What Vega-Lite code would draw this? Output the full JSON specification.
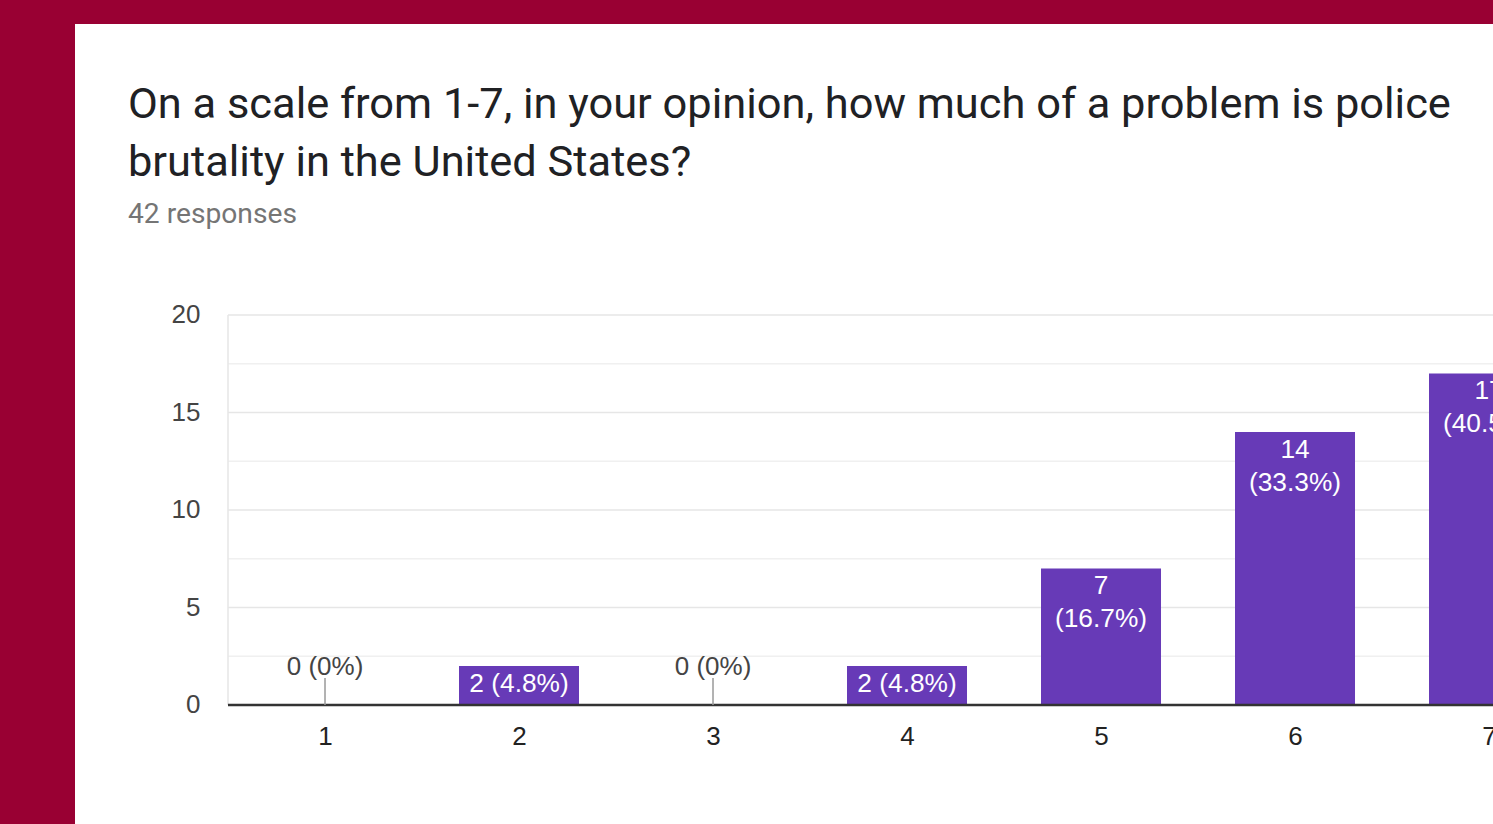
{
  "$schema": "https://vega.github.io/schema/vega-lite/v6.json",
  "width": 1418,
  "height": 800,
  "autosize": {"type": "none"},
  "padding": {"left": 75, "top": 24, "right": 0, "bottom": 0},
  "background": "#990033",
  "title": {
    "text": ["On a scale from 1-7, in your opinion, how much of a problem is police", "brutality in the United States?"],
    "subtitle": "42 responses",
    "anchor": "start",
    "frame": "group",
    "orient": "top",
    "offset": -205,
    "dx": 53,
    "font": "Roboto",
    "fontSize": 43.4,
    "fontWeight": "normal",
    "color": "#202124",
    "lineHeight": 58,
    "subtitleFont": "Roboto",
    "subtitleFontSize": 28.2,
    "subtitleColor": "#757575",
    "subtitlePadding": 15
  },
  "data": {
    "values": [
      {"rating": 1, "count": 0, "label": "0 (0%)"},
      {"rating": 2, "count": 2, "label": "2 (4.8%)"},
      {"rating": 3, "count": 0, "label": "0 (0%)"},
      {"rating": 4, "count": 2, "label": "2 (4.8%)"},
      {"rating": 5, "count": 7, "label": "7\n(16.7%)"},
      {"rating": 6, "count": 14, "label": "14\n(33.3%)"},
      {"rating": 7, "count": 17, "label": "17\n(40.5%)"}
    ]
  },
  "layer": [
    {
      "data": {"values": [{"tick": 2.5}, {"tick": 5}, {"tick": 7.5}, {"tick": 10}, {"tick": 12.5}, {"tick": 15}, {"tick": 17.5}, {"tick": 20}]},
      "mark": {"type": "rule", "strokeWidth": 1.5},
      "encoding": {
        "x": {
          "datum": 0.5, "type": "quantitative",
          "scale": {"domain": [-0.2887, 7.0206], "nice": false, "zero": false, "padding": 0},
          "axis": {"values": [1, 2, 3, 4, 5, 6, 7], "format": "d", "title": null, "grid": false, "domain": false, "ticks": false, "tickSize": 0, "labelPadding": 18, "labelFont": "Liberation Sans", "labelFontSize": 26, "labelColor": "#222222", "labelFlush": false, "labelOverlap": false, "offset": -119, "zindex": 1}
        },
        "x2": {"datum": 7.5},
        "y": {
          "field": "tick", "type": "quantitative",
          "scale": {"domain": [-6.1026, 34.923], "nice": false, "zero": false, "padding": 0},
          "axis": {"values": [0, 5, 10, 15, 20], "title": null, "grid": false, "domain": false, "ticks": false, "tickSize": 0, "labelPadding": 27, "labelFont": "Liberation Sans", "labelFontSize": 26, "labelColor": "#444444", "labelOverlap": false, "offset": -152, "zindex": 1}
        },
        "color": {"condition": {"test": "datum.tick % 5 == 0", "value": "#e6e6e6"}, "value": "#f0f0f0"}
      }
    },
    {
      "data": {"values": [{"edge": "left"}]},
      "mark": {"type": "rule", "color": "#e6e6e6", "strokeWidth": 1.5},
      "encoding": {
        "x": {"datum": 0.5, "type": "quantitative"},
        "y": {"datum": 0, "type": "quantitative"},
        "y2": {"datum": 20}
      }
    },
    {
      "mark": {"type": "bar", "orient": "vertical", "color": "#673ab7", "size": 120},
      "encoding": {
        "x": {"field": "rating", "type": "quantitative"},
        "y": {"field": "count", "type": "quantitative"}
      }
    },
    {
      "data": {"values": [{"edge": "baseline"}]},
      "mark": {"type": "rule", "color": "#333333", "strokeWidth": 2.5},
      "encoding": {
        "x": {"datum": 0.5, "type": "quantitative"},
        "x2": {"datum": 7.5},
        "y": {"datum": 0, "type": "quantitative"}
      }
    },
    {
      "transform": [{"filter": "datum.count == 0"}],
      "mark": {"type": "rule", "color": "#999999", "strokeWidth": 1.5},
      "encoding": {
        "x": {"field": "rating", "type": "quantitative"},
        "y": {"field": "count", "type": "quantitative"},
        "y2": {"datum": 1.38}
      }
    },
    {
      "transform": [{"filter": "datum.count == 0"}],
      "mark": {"type": "text", "font": "Liberation Sans", "fontSize": 26, "color": "#444444", "baseline": "alphabetic", "dy": -30},
      "encoding": {
        "x": {"field": "rating", "type": "quantitative"},
        "y": {"field": "count", "type": "quantitative"},
        "text": {"field": "label"}
      }
    },
    {
      "transform": [{"filter": "datum.count > 0"}],
      "mark": {"type": "text", "font": "Liberation Sans", "fontSize": 26.3, "color": "#ffffff", "baseline": "top", "dy": 5, "lineBreak": "\n", "lineHeight": 33},
      "encoding": {
        "x": {"field": "rating", "type": "quantitative"},
        "y": {"field": "count", "type": "quantitative"},
        "text": {"field": "label"}
      }
    }
  ],
  "config": {
    "view": {"fill": "#ffffff", "stroke": null}
  }
}
